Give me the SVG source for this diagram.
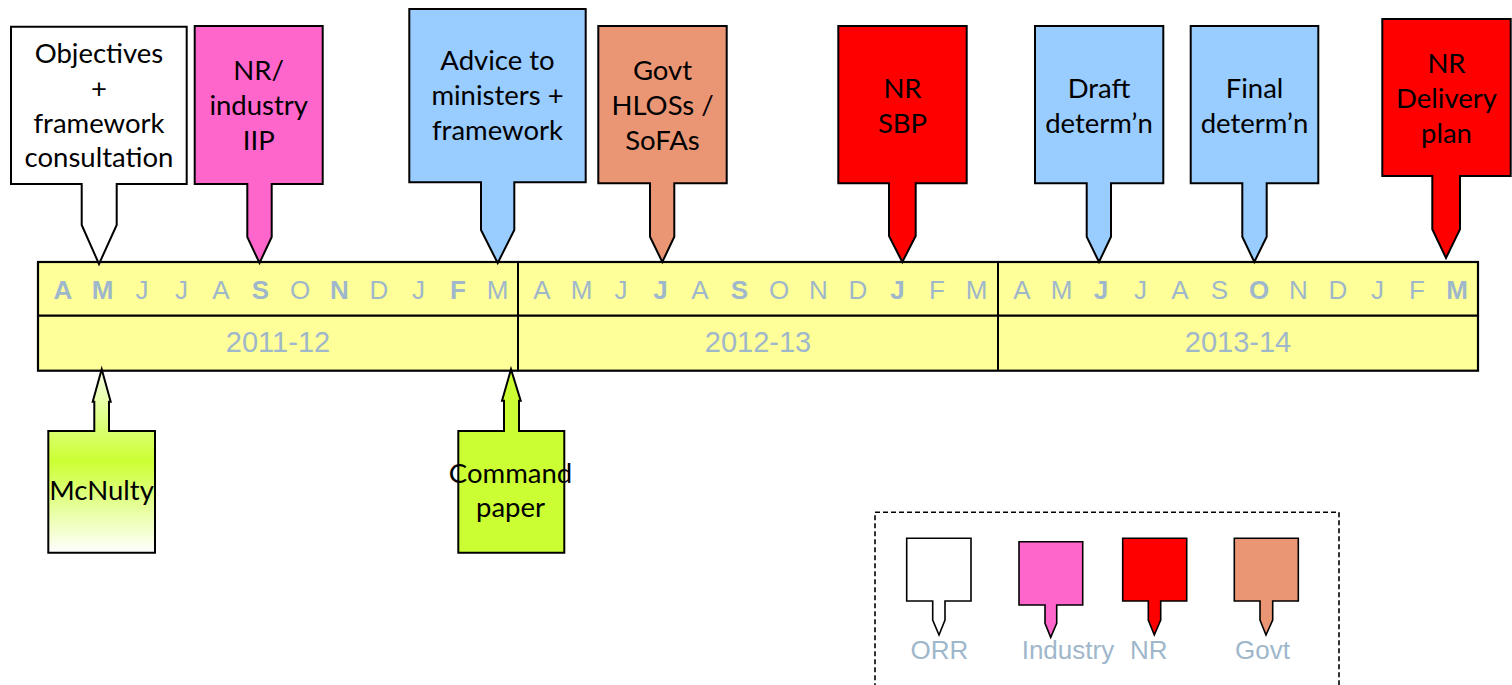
<svg xmlns="http://www.w3.org/2000/svg" width="1512" height="685" viewBox="0 0 1512 685">
<style>
.co{stroke:#000;stroke-width:2;stroke-linejoin:miter}
.lg{stroke:#000;stroke-width:1.6}
.t{font-family:Lato,"Open Sans",sans-serif;font-size:27.5px;fill:#000;text-anchor:middle}
.m{font-family:"Liberation Sans",Arial,sans-serif;font-size:26px;fill:#9FB7CB;text-anchor:middle}
.b{font-weight:bold}
.y{font-family:"Liberation Sans",Arial,sans-serif;font-size:29px;fill:#9FB7CB;text-anchor:middle}
.l{font-family:"Liberation Sans",Arial,sans-serif;font-size:26px;fill:#9FB7CB}
.orr{fill:#fff}.ind{fill:#FF66CC}.nr{fill:#FF0000}.gov{fill:#EA9674}.blue{fill:#99CCFF}.lime{fill:#CCFF33}
</style>
<defs>
<linearGradient id="mcg" x1="0" y1="0" x2="0" y2="1">
<stop offset="0" stop-color="#f6ffe6"/>
<stop offset="0.5" stop-color="#CCFF33"/>
<stop offset="1" stop-color="#ffffff"/>
</linearGradient>
</defs>
<rect width="1512" height="685" fill="#fff"/>

<g id="timeline">
<rect x="38" y="262" width="1440" height="108.7" fill="#FFFF99" stroke="#000" stroke-width="2.2"/>
<line x1="38" y1="315.7" x2="1478" y2="315.7" stroke="#000" stroke-width="2.2"/>
<line x1="518" y1="262" x2="518" y2="370.7" stroke="#000" stroke-width="2"/>
<line x1="998" y1="262" x2="998" y2="370.7" stroke="#000" stroke-width="2"/>
<g>
<text class="m b" x="63" y="298.5">A</text>
<text class="m b" x="102.5" y="298.5">M</text>
<text class="m" x="142" y="298.5">J</text>
<text class="m" x="181.5" y="298.5">J</text>
<text class="m" x="221" y="298.5">A</text>
<text class="m b" x="260.5" y="298.5">S</text>
<text class="m" x="300" y="298.5">O</text>
<text class="m b" x="339.5" y="298.5">N</text>
<text class="m" x="379" y="298.5">D</text>
<text class="m" x="418.5" y="298.5">J</text>
<text class="m b" x="458" y="298.5">F</text>
<text class="m" x="497.5" y="298.5">M</text>
</g>
<g>
<text class="m" x="542" y="298.5">A</text>
<text class="m" x="581.5" y="298.5">M</text>
<text class="m" x="621" y="298.5">J</text>
<text class="m b" x="660.5" y="298.5">J</text>
<text class="m" x="700" y="298.5">A</text>
<text class="m b" x="739.5" y="298.5">S</text>
<text class="m" x="779" y="298.5">O</text>
<text class="m" x="818.5" y="298.5">N</text>
<text class="m" x="858" y="298.5">D</text>
<text class="m b" x="897.5" y="298.5">J</text>
<text class="m" x="937" y="298.5">F</text>
<text class="m" x="976.5" y="298.5">M</text>
</g>
<g>
<text class="m" x="1022" y="298.5">A</text>
<text class="m" x="1061.5" y="298.5">M</text>
<text class="m b" x="1101" y="298.5">J</text>
<text class="m" x="1140.5" y="298.5">J</text>
<text class="m" x="1180" y="298.5">A</text>
<text class="m" x="1219.5" y="298.5">S</text>
<text class="m b" x="1259" y="298.5">O</text>
<text class="m" x="1298.5" y="298.5">N</text>
<text class="m" x="1338" y="298.5">D</text>
<text class="m" x="1377.5" y="298.5">J</text>
<text class="m" x="1417" y="298.5">F</text>
<text class="m b" x="1457" y="298.5">M</text>
</g>
<text class="y" x="278" y="352">2011-12</text>
<text class="y" x="758" y="352">2012-13</text>
<text class="y" x="1238" y="352">2013-14</text>
</g>

<g id="connectors"/>

<g id="objectives">
<path class="co orr" d="M11,26.7 H186.7 V184 H116.7 V225 L99,264 L81.7,225 V184 H11 Z"/>
<text class="t" x="99" y="63">Objectives</text>
<text class="t" x="99" y="98">+</text>
<text class="t" x="99" y="132.5">framework</text>
<text class="t" x="99" y="167">consultation</text>
</g>

<g id="nr-industry-iip">
<path class="co ind" d="M194.7,26 H322.7 V184 H271.7 V237 L259.5,263 L247.3,237 V184 H194.7 Z"/>
<text class="t" x="258.7" y="80">NR/</text>
<text class="t" x="258.7" y="115">industry</text>
<text class="t" x="258.7" y="150">IIP</text>
</g>

<g id="advice">
<path class="co blue" d="M409.3,9 H585.7 V182.3 H514.3 V230 L497.7,263 L481,230 V182.3 H409.3 Z"/>
<text class="t" x="497.5" y="70">Advice to</text>
<text class="t" x="497.5" y="105">ministers +</text>
<text class="t" x="497.5" y="140">framework</text>
</g>

<g id="govt-hlos">
<path class="co gov" d="M598.3,26 H726.7 V183.3 H674.3 V236.7 L662.3,262 L650,236.7 V183.3 H598.3 Z"/>
<text class="t" x="662.5" y="80">Govt</text>
<text class="t" x="662.5" y="115">HLOSs /</text>
<text class="t" x="662.5" y="150">SoFAs</text>
</g>

<g id="nr-sbp">
<path class="co nr" d="M838.3,26 H966.7 V183.3 H915.7 V236 L902.3,262 L889,236 V183.3 H838.3 Z"/>
<text class="t" x="902.5" y="97.5">NR</text>
<text class="t" x="902.5" y="132.5">SBP</text>
</g>

<g id="draft">
<path class="co blue" d="M1035,26 H1163.3 V183.3 H1111 V236.7 L1099,262 L1086.7,236.7 V183.3 H1035 Z"/>
<text class="t" x="1099" y="97.5">Draft</text>
<text class="t" x="1099" y="132.5">determ’n</text>
</g>

<g id="final">
<path class="co blue" d="M1190.7,26 H1318.3 V183.3 H1266.7 V236.7 L1254.3,262 L1242.3,236.7 V183.3 H1190.7 Z"/>
<text class="t" x="1254.5" y="97.5">Final</text>
<text class="t" x="1254.5" y="132.5">determ’n</text>
</g>

<g id="nr-delivery">
<path class="co nr" d="M1382.3,19 H1510.7 V176 H1460 V229.3 L1446,258 L1432.3,229.3 V176 H1382.3 Z"/>
<text class="t" x="1446.5" y="72.5">NR</text>
<text class="t" x="1446.5" y="107.5">Delivery</text>
<text class="t" x="1446.5" y="142.5">plan</text>
</g>

<g id="mcnulty">
<path class="co" fill="url(#mcg)" d="M48.3,431 H94.3 V401.7 H92.7 L101.7,369.3 L110.7,401.7 H109 V431 H155 V552.7 H48.3 Z"/>
<text class="t" x="101.5" y="500">McNulty</text>
</g>

<g id="command-paper">
<path class="co lime" d="M458.3,431 H504 V400.7 H502 L511,369.3 L520.7,400.7 H519 V431 H564.3 V552.7 H458.3 Z"/>
<text class="t" x="510.5" y="483.3">Command</text>
<text class="t" x="510.5" y="517">paper</text>
</g>

<g id="legend">
<rect x="875" y="512.3" width="464" height="200" fill="none" stroke="#000" stroke-width="1.6" stroke-dasharray="5,3"/>
<g id="legend-orr">
<path class="lg orr" d="M906.7,538.3 H971 V601 H945 V620 L939,635 L932.7,620 V601 H906.7 Z"/>
<text class="l" x="939.3" y="659.3" text-anchor="middle">ORR</text>
</g>
<g id="legend-industry">
<path class="lg ind" d="M1019,541.7 H1082.7 V605 H1056.7 V623.3 L1050.7,637.3 L1045,623.3 V605 H1019 Z"/>
<text class="l" x="1021.7" y="659.3">Industry</text>
</g>
<g id="legend-nr">
<path class="lg nr" d="M1122.7,538.3 H1186.7 V601 H1160.7 V620 L1154.3,635 L1148.3,620 V601 H1122.7 Z"/>
<text class="l" x="1130" y="659.3">NR</text>
</g>
<g id="legend-govt">
<path class="lg gov" d="M1234.3,538.3 H1298.3 V601 H1272.7 V620 L1266,635 L1260,620 V601 H1234.3 Z"/>
<text class="l" x="1235" y="659.3">Govt</text>
</g>
</g>
</svg>
